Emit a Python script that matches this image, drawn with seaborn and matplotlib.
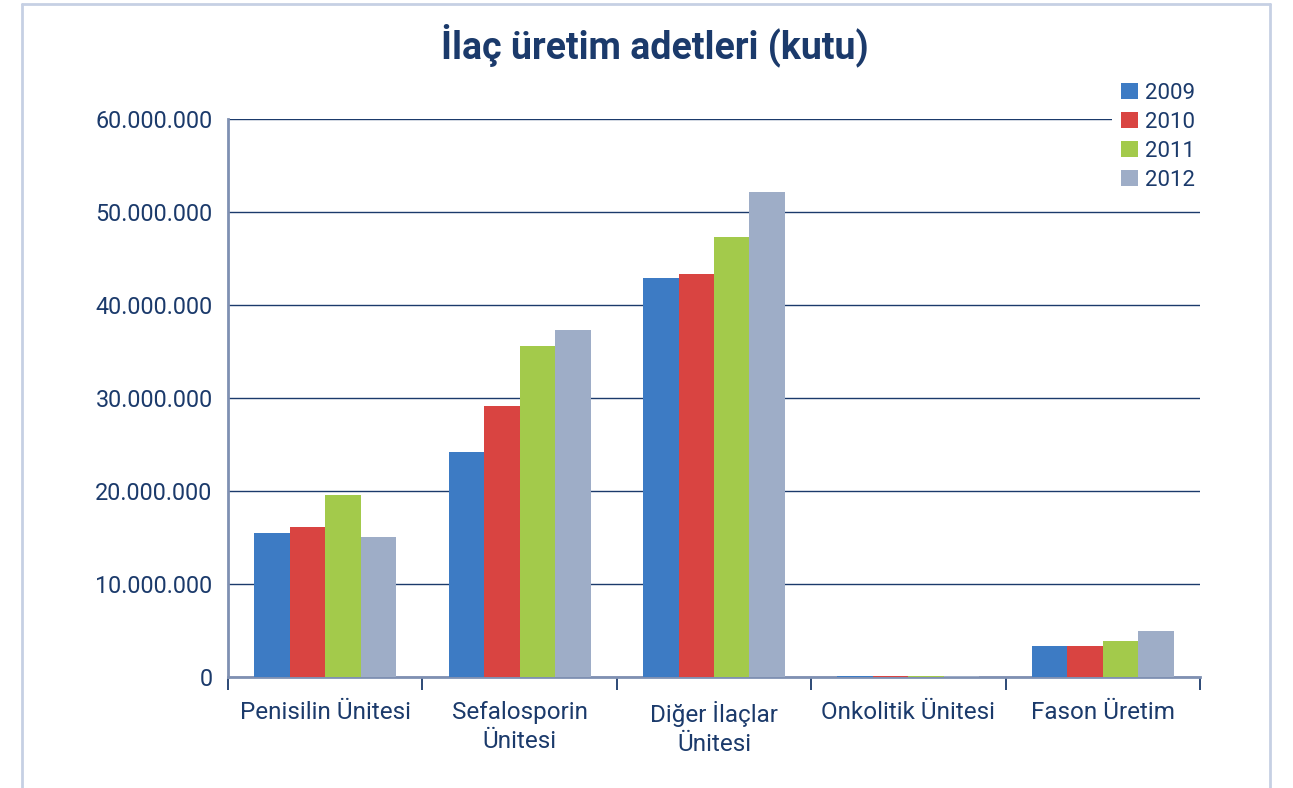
import matplotlib
matplotlib.use("Agg")
import matplotlib.pyplot as plt
from matplotlib.ticker import FuncFormatter, MultipleLocator, FixedLocator
import pandas as pd
import seaborn as sns

categories = ["Penisilin Ünitesi", "Sefalosporin\nÜnitesi", "Diğer İlaçlar\nÜnitesi",
              "Onkolitik Ünitesi", "Fason Üretim"]
years = ["2009", "2010", "2011", "2012"]
v2009 = [15_500_000, 24_200_000, 42_900_000, 130_000, 3_350_000]
v2010 = [16_100_000, 29_100_000, 43_300_000, 130_000, 3_350_000]
v2011 = [19_600_000, 35_600_000, 47_300_000, 130_000, 3_900_000]
v2012 = [15_100_000, 37_300_000, 52_200_000, 130_000, 4_900_000]

colors = ["#3d7bc4", "#d94441", "#a3ca4b", "#9eadc7"]
navy = "#1b3a6b"

rows = []
for year, vals in zip(years, [v2009, v2010, v2011, v2012]):
    for cat, v in zip(categories, vals):
        rows.append({"Birim": cat, "Yıl": year, "Adet": v})
df = pd.DataFrame(rows)

sns.set_style("white")
plt.rcParams["font.family"] = ["Roboto", "DejaVu Sans"]

fig = plt.figure(figsize=(12.93, 7.88), dpi=100)
ax = fig.add_axes([228 / 1293, 1 - 677 / 788, 972 / 1293, 558 / 788])

sns.barplot(data=df, x="Birim", y="Adet", hue="Yıl", palette=colors,
            width=0.73, gap=0, saturation=1, linewidth=0, ax=ax)
for p in ax.patches:
    p.set_zorder(3)

ax.set_ylim(0, 60_000_000)
ax.set_xlim(-0.5, len(categories) - 0.5)
ax.yaxis.set_major_locator(MultipleLocator(10_000_000))
ax.yaxis.set_major_formatter(FuncFormatter(lambda v, _: f"{int(v):,}".replace(",", ".")))
ax.grid(axis="y", color=navy, linewidth=1.0)
ax.set_axisbelow(True)

for s in ["top", "right"]:
    ax.spines[s].set_visible(False)
for s in ["left", "bottom"]:
    ax.spines[s].set_color("#7f90b2")
    ax.spines[s].set_linewidth(2)
    ax.spines[s].set_zorder(2)

ax.tick_params(axis="y", length=0, pad=11, labelsize=16.8, labelcolor=navy)
ax.tick_params(axis="x", length=0, pad=17, labelsize=17.5, labelcolor=navy)
ax.xaxis.set_minor_locator(FixedLocator([i - 0.5 for i in range(len(categories) + 1)]))
ax.tick_params(axis="x", which="minor", bottom=True, length=9, width=1.3,
               color=navy, direction="out")
ax.set_xlabel("")
ax.set_ylabel("")
for lbl in ax.get_xticklabels():
    lbl.set_multialignment("center")
    lbl.set_linespacing(1.35)

# legend box is white so the top gridline stops short of it
leg = ax.legend(loc="upper left", bbox_to_anchor=(1112 / 1293, 1 - 74 / 788),
                bbox_transform=fig.transFigure, frameon=True, fontsize=16,
                handlelength=0.75, handleheight=0.75, handletextpad=0.35,
                labelspacing=0.36, borderaxespad=0, borderpad=0.4, fancybox=False)
leg.get_frame().set_facecolor("white")
leg.get_frame().set_edgecolor("none")
leg.get_frame().set_alpha(1)
leg.set_zorder(5)
for t in leg.get_texts():
    t.set_color(navy)

fig.text(655 / 1293, 1 - 45 / 788, "İlaç üretim adetleri (kutu)",
         ha="center", va="center", fontsize=27, fontweight="bold", color=navy,
         fontstretch="condensed", family=["Roboto", "DejaVu Sans"])

# light frame around the chart
frame = "#c6d0e4"
fig.add_artist(plt.Line2D([22 / 1293, 22 / 1293], [0, 1 - 4 / 788], color=frame, lw=2,
                          transform=fig.transFigure))
fig.add_artist(plt.Line2D([1270 / 1293, 1270 / 1293], [0, 1 - 4 / 788], color=frame, lw=2,
                          transform=fig.transFigure))
fig.add_artist(plt.Line2D([22 / 1293, 1270 / 1293], [1 - 4 / 788, 1 - 4 / 788], color=frame, lw=2,
                          transform=fig.transFigure))

fig.savefig("out.png", dpi=100)
